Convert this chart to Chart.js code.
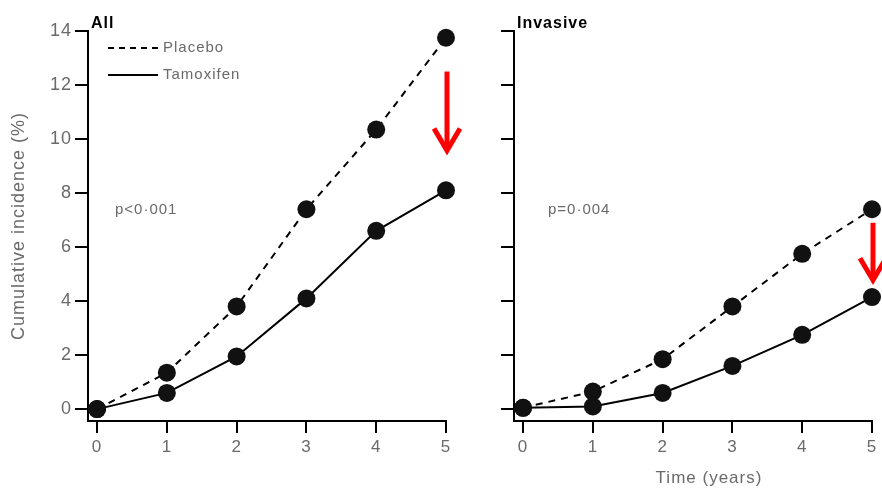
<!DOCTYPE html>
<html>
<head>
<meta charset="utf-8">
<script src="https://cdn.jsdelivr.net/npm/chart.js@4"></script>
<style>
  html, body { margin: 0; padding: 0; background: #fff; }
  #wrap { position: relative; width: 882px; height: 490px; }
  canvas { position: absolute; top: 0; }
  #left { left: 0; }
  #right { left: 470px; }
</style>
</head>
<body>
<div id="wrap">
  <canvas id="left" width="470" height="490"></canvas>
  <canvas id="right" width="412" height="490"></canvas>
</div>
<script>
const years = [0, 1, 2, 3, 4, 5]
const yTicks = [0, 2, 4, 6, 8, 10, 12, 14]

const allPlacebo = [0, 1.35, 3.8, 7.4, 10.35, 13.75]
const allTamoxifen = [0, 0.6, 1.95, 4.1, 6.6, 8.1]
const invPlacebo = [0.05, 0.65, 1.85, 3.8, 5.75, 7.4]
const invTamoxifen = [0.05, 0.1, 0.6, 1.6, 2.75, 4.15]

// arrow: [x, yFrom, yTo]
const allArrow = [5, 12.5, 9.5]
const invArrow = [5, 6.9, 4.7]

const GREY = '#6a6a6a'
const FONT = 'Liberation Sans, Arial, sans-serif'

const toPoints = (vals) => vals.map((v, i) => ({x: years[i], y: v}))

// the scanned figure has loose letter spacing
const spacing = {
  id: 'spacing',
  beforeLayout(chart) { chart.ctx.letterSpacing = '1px' },
  beforeDraw(chart) { chart.ctx.letterSpacing = '1px' },
}

const annot = {
  id: 'annot',
  afterDatasetsDraw(chart, args, opts) {
    const {ctx, chartArea, scales: {x, y}} = chart
    ctx.save()
    // panel title
    ctx.fillStyle = '#000'
    ctx.font = 'bold 16px ' + FONT
    ctx.textBaseline = 'alphabetic'
    ctx.textAlign = 'left'
    ctx.fillText(opts.title, chartArea.left + 3, 28)

    // p-value
    ctx.fillStyle = GREY
    ctx.font = '15px ' + FONT
    ctx.textBaseline = 'middle'
    ctx.fillText(opts.pval, chartArea.left + opts.pvalDx, 210)

    // legend
    if (opts.legend) {
      ctx.strokeStyle = '#000'
      ctx.lineWidth = 2
      ctx.setLineDash([6, 5])
      ctx.beginPath(); ctx.moveTo(108, 48); ctx.lineTo(158, 48); ctx.stroke()
      ctx.setLineDash([])
      ctx.beginPath(); ctx.moveTo(108, 75); ctx.lineTo(158, 75); ctx.stroke()
      ctx.fillStyle = GREY
      ctx.fillText('Placebo', 163, 48)
      ctx.fillText('Tamoxifen', 163, 75)
    }

    // x axis title, set off-centre as in the original
    if (opts.xTitle) {
      ctx.fillStyle = GREY
      ctx.font = '17px ' + FONT
      ctx.textAlign = 'center'
      ctx.fillText(opts.xTitle, 239, 478)
    }

    // red arrow
    const [ax, y0, y1] = opts.arrow
    const px = x.getPixelForValue(ax) + 1
    const p0 = y.getPixelForValue(y0)
    const p1 = y.getPixelForValue(y1)
    ctx.strokeStyle = '#ff0000'
    ctx.lineWidth = 5
    ctx.lineCap = 'butt'
    ctx.beginPath(); ctx.moveTo(px, p0); ctx.lineTo(px, p1 - 3); ctx.stroke()
    ctx.lineJoin = 'miter'
    ctx.beginPath()
    ctx.moveTo(px - 13, p1 - 24)
    ctx.lineTo(px, p1 - 2)
    ctx.lineTo(px + 13, p1 - 24)
    ctx.stroke()
    ctx.restore()
  },
}

function makeChart(id, placebo, tamoxifen, cfg) {
  const ds = (label, data, dash) => ({
    label,
    data: toPoints(data),
    borderColor: '#000',
    backgroundColor: '#111',
    borderWidth: 2,
    borderDash: dash,
    pointRadius: 9,
    pointBorderWidth: 0,
    pointBackgroundColor: '#111',
    tension: 0,
    clip: false,
  })

  return new Chart(document.getElementById(id), {
    type: 'line',
    data: {
      datasets: [
        ds('Placebo', placebo, [7, 6]),
        ds('Tamoxifen', tamoxifen, []),
      ],
    },
    options: {
      responsive: false,
      animation: false,
      layout: {padding: {top: 31, right: cfg.padRight, left: 0, bottom: 0}},
      plugins: {
        legend: {display: false},
        tooltip: {enabled: false},
        annot: cfg.annot,
      },
      scales: {
        x: {
          type: 'linear',
          min: -0.13,
          max: 5,
          afterBuildTicks: (s) => { s.ticks = years.map((v) => ({value: v})) },
          afterFit: (s) => { s.height = 69 },
          border: {color: '#000', width: 2},
          grid: {drawOnChartArea: false, color: '#000', lineWidth: 2, tickLength: 12},
          ticks: {color: GREY, font: {family: FONT, size: 17}, padding: 4},
        },
        y: {
          type: 'linear',
          min: -0.44,
          max: 14,
          afterBuildTicks: (s) => { s.ticks = yTicks.map((v) => ({value: v})) },
          afterFit: (s) => { s.width = cfg.yWidth },
          border: {color: '#000', width: 2},
          grid: {drawOnChartArea: false, color: '#000', lineWidth: 2, tickLength: 13},
          ticks: {display: cfg.yLabels, color: GREY, font: {family: FONT, size: 18}, padding: 3},
          title: {
            display: cfg.yLabels,
            text: 'Cumulative incidence (%)',
            color: GREY,
            font: {family: FONT, size: 18},
            padding: {top: 8, bottom: 0},
          },
        },
      },
    },
    plugins: [spacing, annot],
  })
}

makeChart('left', allPlacebo, allTamoxifen, {
  padRight: 24,
  yWidth: 88,
  yLabels: true,
  annot: {title: 'All', pval: 'p<0·001', pvalDx: 27, legend: true, arrow: allArrow},
})

makeChart('right', invPlacebo, invTamoxifen, {
  padRight: 10,
  yWidth: 44,
  yLabels: false,
  annot: {title: 'Invasive', pval: 'p=0·004', pvalDx: 34, legend: false, arrow: invArrow, xTitle: 'Time (years)'},
})
</script>
</body>
</html>
